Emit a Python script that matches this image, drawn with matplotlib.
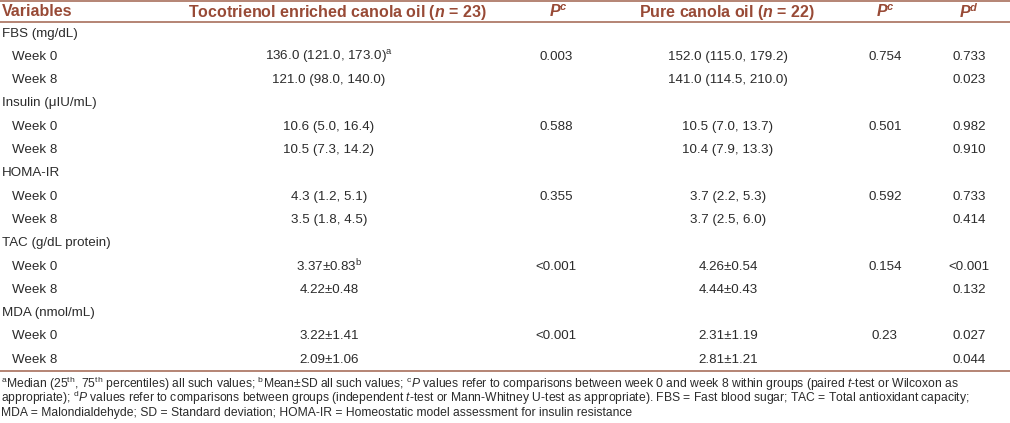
import matplotlib
matplotlib.use('Agg')
import matplotlib.pyplot as plt

plt.rcParams['mathtext.fontset'] = 'custom'
plt.rcParams['mathtext.rm'] = 'Liberation Sans'
plt.rcParams['mathtext.it'] = 'Liberation Sans:italic'
plt.rcParams['mathtext.bf'] = 'Liberation Sans:bold:italic'

# table content
headers = ['Variables', r'Tocotrienol enriched canola oil ($\mathbf{n}$ = 23)', r'$\mathbf{P}^{\mathbf{c}}$',
           r'Pure canola oil ($\mathbf{n}$ = 22)', r'$\mathbf{P}^{\mathbf{c}}$', r'$\mathbf{P}^{\mathbf{d}}$']
variables = ['FBS (mg/dL)', 'Insulin (μIU/mL)', 'HOMA-IR', 'TAC (g/dL protein)', 'MDA (nmol/mL)']
toco_w0 = [r'136.0 (121.0, 173.0)$^{\mathrm{a}}$', '10.6 (5.0, 16.4)', '4.3 (1.2, 5.1)',
           r'3.37±0.83$^{\mathrm{b}}$', '3.22±1.41']
toco_w8 = ['121.0 (98.0, 140.0)', '10.5 (7.3, 14.2)', '3.5 (1.8, 4.5)', '4.22±0.48', '2.09±1.06']
p_c_toco = ['0.003', '0.588', '0.355', '<0.001', '<0.001']
pure_w0 = ['152.0 (115.0, 179.2)', '10.5 (7.0, 13.7)', '3.7 (2.2, 5.3)', '4.26±0.54', '2.31±1.19']
pure_w8 = ['141.0 (114.5, 210.0)', '10.4 (7.9, 13.3)', '3.7 (2.5, 6.0)', '4.44±0.43', '2.81±1.21']
p_c_pure = ['0.754', '0.501', '0.592', '0.154', '0.23']
p_d_w0 = ['0.733', '0.982', '0.733', '<0.001', '0.027']
p_d_w8 = ['0.023', '0.910', '0.414', '0.132', '0.044']

footnotes = [
    r'$^{\mathrm{a}}$Median (25$^{\mathrm{th}}$, 75$^{\mathrm{th}}$ percentiles) all such values; '
    r'$^{\mathrm{b}}$Mean±SD all such values; $^{\mathrm{c}}$$\mathit{P}$ values refer to comparisons '
    r'between week 0 and week 8 within groups (paired $\mathit{t}$-test or Wilcoxon as',
    r'appropriate); $^{\mathrm{d}}$$\mathit{P}$ values refer to comparisons between groups (independent '
    r'$\mathit{t}$-test or Mann-Whitney U-test as appropriate). FBS = Fast blood sugar; TAC = Total antioxidant capacity;',
    'MDA = Malondialdehyde; SD = Standard deviation; HOMA-IR = Homeostatic model assessment for insulin resistance',
]

brown = '#984a36'
line_col = '#a8705c'
txt = '#2b2b2b'
body_font = 'Liberation Sans'

fig = plt.figure(figsize=(10.1, 4.23), dpi=100)
ax = fig.add_axes([0, 0, 1, 1])
ax.set_xlim(0, 1010)
ax.set_ylim(423, 0)
ax.axis('off')

col_x = [2, 329, 556, 728, 885, 969]
head_x = [2, 337, 558, 727, 885, 969]
header_y = 12
row0_y = 33.5
row_h = 23.3

for i, h in enumerate(headers):
    ha = 'left' if i == 0 else 'center'
    ax.text(head_x[i], header_y, h, ha=ha, va='center', color=brown,
            fontsize=11.5, fontweight='bold', family=body_font)

ax.plot([0, 1010], [1, 1], color=line_col, lw=1.2)
ax.plot([0, 1010], [22, 22], color=line_col, lw=1.2)

def cell(x, y, s, ha='center'):
    ax.text(x, y, s, ha=ha, va='center', color=txt, fontsize=9.6, family=body_font)

r = 0
for k, var in enumerate(variables):
    y = row0_y + r * row_h
    cell(col_x[0], y, var, ha='left')
    y0 = row0_y + (r + 1) * row_h
    y8 = row0_y + (r + 2) * row_h
    cell(12, y0, 'Week 0', ha='left')
    cell(12, y8, 'Week 8', ha='left')
    cell(col_x[1], y0, toco_w0[k])
    cell(col_x[1], y8, toco_w8[k])
    cell(col_x[2], y0, p_c_toco[k])
    cell(col_x[3], y0, pure_w0[k])
    cell(col_x[3], y8, pure_w8[k])
    cell(col_x[4], y0, p_c_pure[k])
    cell(col_x[5], y0, p_d_w0[k])
    cell(col_x[5], y8, p_d_w8[k])
    r += 3

ax.plot([0, 1010], [371, 371], color=line_col, lw=1.2)

for j, note in enumerate(footnotes):
    ax.text(1, 383.5 + j * 14.8, note, ha='left', va='center', color=txt,
            fontsize=8.7, family=body_font)

fig.savefig('out.png', dpi=100)
